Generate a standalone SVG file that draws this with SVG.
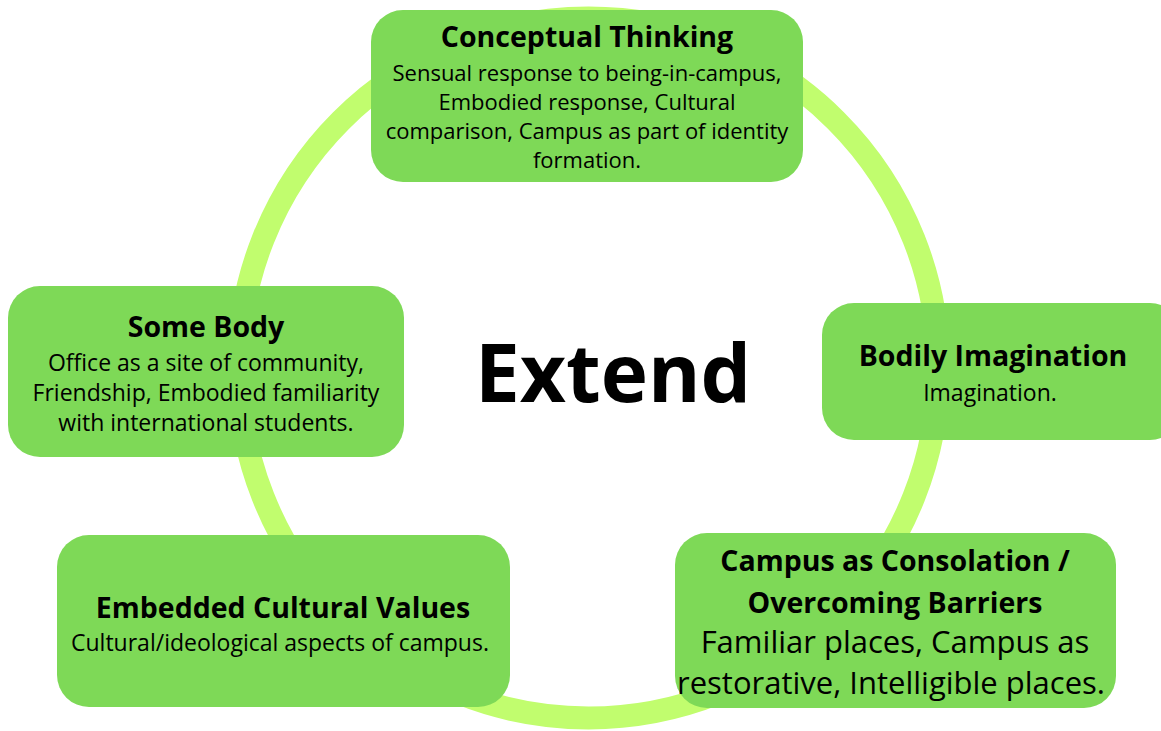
<svg xmlns="http://www.w3.org/2000/svg" width="1161" height="731" viewBox="0 0 1161 731">
<style>
.box{fill:#7ED957;}
.t{font-family:"Open Sans","Liberation Sans",sans-serif;font-weight:700;font-size:28.5px;fill:#000;text-anchor:middle;}
.b{font-family:"Open Sans","Liberation Sans",sans-serif;font-size:23px;fill:#000;text-anchor:middle;}
.b22{font-size:22px;}
.b30{font-size:31px;}
.ring{fill:none;stroke:#C1FD6E;stroke-width:23;}
</style>
<rect width="1161" height="731" fill="#fff"/>
<g id="connectors">
<circle class="ring" cx="588.5" cy="368" r="350"/>
</g>
<g id="center">
<text x="613" y="402" font-family="'Open Sans','Liberation Sans',sans-serif" font-weight="700" font-size="80" text-anchor="middle">Extend</text>
</g>
<g id="conceptual-thinking">
<rect class="box" x="371" y="10" width="432" height="172" rx="32"/>
<text class="t" x="587" y="47">Conceptual Thinking</text>
<text class="b b22" x="587" y="81">Sensual response to being-in-campus,</text>
<text class="b b22" x="587" y="110">Embodied response, Cultural</text>
<text class="b b22" x="587" y="139">comparison, Campus as part of identity</text>
<text class="b b22" x="587" y="168">formation.</text>
</g>
<g id="some-body">
<rect class="box" x="8" y="286" width="396" height="171" rx="32"/>
<text class="t" x="206" y="337">Some Body</text>
<text class="b" x="206" y="371">Office as a site of community,</text>
<text class="b" x="206" y="401">Friendship, Embodied familiarity</text>
<text class="b" x="206" y="431">with international students.</text>
</g>
<g id="bodily-imagination">
<rect class="box" x="822" y="303" width="360" height="137" rx="32"/>
<text class="t" x="993" y="366">Bodily Imagination</text>
<text class="b" x="990" y="401">Imagination.</text>
</g>
<g id="embedded-cultural-values">
<rect class="box" x="57" y="535" width="453" height="172" rx="32"/>
<text class="t" x="283" y="618">Embedded Cultural Values</text>
<text class="b" x="280" y="651">Cultural/ideological aspects of campus.</text>
</g>
<g id="campus-consolation">
<rect class="box" x="675" y="533" width="441" height="175" rx="32"/>
<text class="t" x="895" y="571">Campus as Consolation /</text>
<text class="t" x="895" y="613">Overcoming Barriers</text>
<text class="b b30" x="895" y="653">Familiar places, Campus as</text>
<text class="b b30" x="891" y="694">restorative, Intelligible places.</text>
</g>
</svg>
